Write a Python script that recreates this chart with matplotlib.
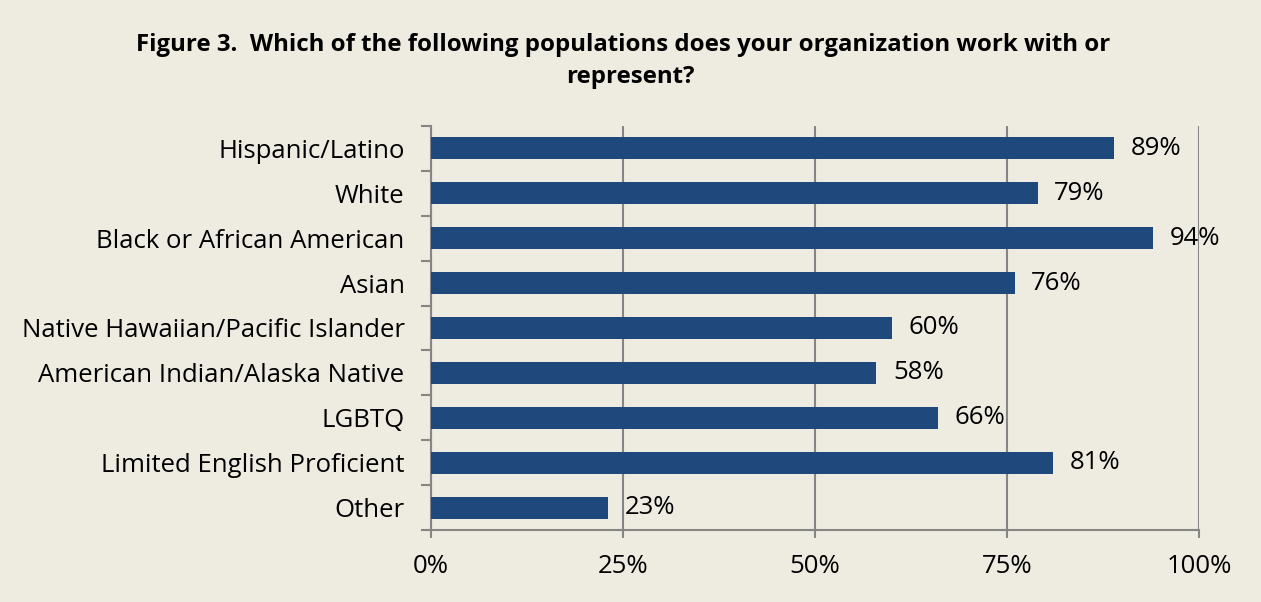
import numpy as np
import matplotlib.pyplot as plt

plt.rcParams['font.family'] = ['Open Sans', 'DejaVu Sans']

categories = ["Hispanic/Latino", "White", "Black or African American", "Asian",
              "Native Hawaiian/Pacific Islander", "American Indian/Alaska Native",
              "LGBTQ", "Limited English Proficient", "Other"]
values = [89, 79, 94, 76, 60, 58, 66, 81, 23]
xticks = [0, 25, 50, 75, 100]

bg = "#EEEBE0"
bar_color = "#1F497D"
axis_gray = "#868686"
label_size = 18.5

fig = plt.figure(figsize=(12.61, 6.02), dpi=100, facecolor=bg)
ax = fig.add_axes([0.3418, 0.1188, 0.6090, 0.6727], facecolor=bg)

y = np.arange(len(categories))
ax.barh(y, values, height=0.48, color=bar_color, zorder=3)

for yi, v in zip(y, values):
    ax.annotate(f"{v}%", (v, yi), xytext=(12, 0), textcoords="offset points",
                va="center", ha="left", fontsize=label_size, color="black")

ax.set_xlim(0, 100)
ax.set_ylim(len(categories) - 0.5, -0.5)
ax.set_xticks(xticks)
ax.set_xticklabels([f"{t}%" for t in xticks])
ax.set_yticks(y)
ax.set_yticklabels(categories)

# category-boundary tick marks on the y axis
ax.set_yticks(np.arange(-0.5, len(categories)), minor=True)
ax.tick_params(axis="y", which="major", length=0, pad=19, labelsize=label_size)
ax.tick_params(axis="y", which="minor", length=7, width=1.5, color=axis_gray)
ax.tick_params(axis="x", which="major", length=6, width=1.5, color=axis_gray,
               pad=11, labelsize=label_size)

ax.grid(axis="x", color=axis_gray, linewidth=1.5, zorder=0)
for side in ["top", "right"]:
    ax.spines[side].set_visible(False)
for side in ["left", "bottom"]:
    ax.spines[side].set_color(axis_gray)
    ax.spines[side].set_linewidth(1.5)

fig.text(0.494, 0.925, "Figure 3.  Which of the following populations does your organization work with or",
         ha="center", va="center", fontsize=17.3, fontweight="bold")
fig.text(0.500, 0.872, "represent?", ha="center", va="center", fontsize=17.3, fontweight="bold")

fig.savefig("out.png", dpi=100, facecolor=bg)
